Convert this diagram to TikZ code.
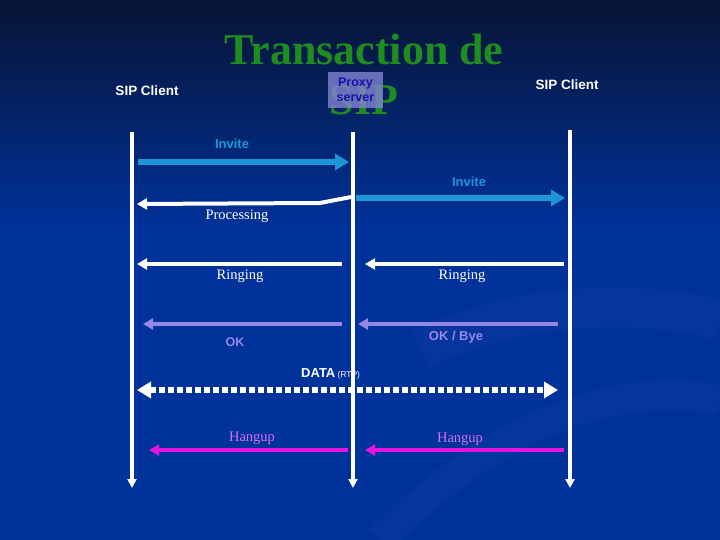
\documentclass[tikz,border=0pt]{standalone}
\usepackage{fontspec}
\setmainfont{Liberation Serif}
\newfontfamily\arialf{Liberation Sans}
\usetikzlibrary{arrows.meta}
\definecolor{bgtop}{RGB}{8,20,52}
\definecolor{bgbot}{RGB}{0,50,155}
\definecolor{invblue}{RGB}{28,150,215}
\definecolor{lav}{RGB}{150,135,230}
\definecolor{mag}{RGB}{230,20,225}
\definecolor{hangtxt}{RGB}{215,110,235}
\definecolor{titlegreen}{RGB}{30,140,30}
\definecolor{proxyfill}{RGB}{130,130,210}
\definecolor{proxytxt}{RGB}{20,20,170}
\tikzset{
  lifeline/.style={white, line width=4pt, -{Triangle[length=9pt,width=9pt]}},
  invitemsg/.style={invblue, line width=6pt, -{Triangle[length=14pt,width=16pt]}},
  whitemsg/.style={white, line width=4pt, -{Triangle[length=10pt,width=11pt]}},
  okmsg/.style={lav, line width=4pt, -{Triangle[length=10pt,width=11pt]}},
  hangmsg/.style={mag, line width=4pt, -{Triangle[length=10pt,width=11pt]}},
  datamsg/.style={white, line width=6pt, dash pattern=on 6pt off 3pt, {Triangle[length=14pt,width=16pt]}-{Triangle[length=14pt,width=16pt]}},
  sanslbl/.style={font=\arialf\bfseries\fontsize{13}{15}\selectfont, inner sep=0pt},
  seriflbl/.style={font=\fontsize{14.5}{16}\selectfont, inner sep=0pt},
}
\begin{document}
\begin{tikzpicture}[x=1pt,y=-1pt]
\fill[bgbot] (0,0) rectangle (720,540);
\shade[top color=bgtop, bottom color=bgbot] (0,0) rectangle (720,230);
\useasboundingbox (0,0) rectangle (720,540);
% faint swirl
\draw[white, opacity=0.025, line width=40pt] (420,350) .. controls (520,300) and (640,300) .. (720,320);
\draw[white, opacity=0.02, line width=30pt] (380,540) .. controls (500,420) and (620,380) .. (720,400);

% title
\node[titlegreen, font=\bfseries\fontsize{44}{50}\selectfont, align=center, inner sep=0pt] (title) at (364,74) {Transaction de\\SIP};
\node[fill=proxyfill, fill opacity=0.8, text opacity=1, text=proxytxt, minimum width=55pt, minimum height=36pt, inner sep=0pt, align=center, font=\arialf\bfseries\fontsize{12.5}{15.5}\selectfont] (proxy) at (355.5,90) {Proxy\\server};

\node[white, sanslbl, font=\arialf\bfseries\fontsize{13.5}{15}\selectfont] (clientL) at (147,91) {SIP Client};
\node[white, sanslbl, font=\arialf\bfseries\fontsize{13.5}{15}\selectfont] (clientR) at (567,85) {SIP Client};

% lifelines
\coordinate (Ltop) at (132,132); \coordinate (Lbot) at (132,488);
\coordinate (Mtop) at (353,132); \coordinate (Mbot) at (353,488);
\coordinate (Rtop) at (570,130); \coordinate (Rbot) at (570,488);
\draw[lifeline] (Ltop) -- (Lbot);
\draw[lifeline] (Mtop) -- (Mbot);
\draw[lifeline] (Rtop) -- (Rbot);

% Invite 1
\coordinate (i1s) at (138,162); \coordinate (i1e) at (349,162);
\draw[invitemsg] (i1s) -- (i1e);
\node[invblue, sanslbl] (inv1) at (232,144) {Invite};
% Invite 2
\coordinate (i2s) at (356,198); \coordinate (i2e) at (565,198);
\draw[invitemsg] (i2s) -- (i2e);
\node[invblue, sanslbl] (inv2) at (469,182) {Invite};

% Processing
\coordinate (ps) at (351,197); \coordinate (pk) at (320,203); \coordinate (pe) at (137,204);
\draw[whitemsg] (ps) -- (pk) -- (pe);
\node[white, seriflbl] (proc) at (237,216) {Processing};

% Ringing
\coordinate (r1s) at (342,264); \coordinate (r1e) at (137,264);
\draw[whitemsg] (r1s) -- (r1e);
\node[white, seriflbl] (ring1) at (240,276) {Ringing};
\coordinate (r2s) at (564,264); \coordinate (r2e) at (365,264);
\draw[whitemsg] (r2s) -- (r2e);
\node[white, seriflbl] (ring2) at (462,276) {Ringing};

% OK
\coordinate (o1s) at (342,324); \coordinate (o1e) at (143,324);
\draw[okmsg] (o1s) -- (o1e);
\node[lav, sanslbl, font=\arialf\bfseries\fontsize{12.5}{15}\selectfont] (ok1) at (235,342) {OK};
\coordinate (o2s) at (558,324); \coordinate (o2e) at (358,324);
\draw[okmsg] (o2s) -- (o2e);
\node[lav, sanslbl] (ok2) at (456,337) {OK / Bye};

% DATA
\coordinate (ds) at (137,390); \coordinate (de) at (558,390);
\draw[datamsg] (ds) -- (de);
\node[white, sanslbl, anchor=base west] (data) at (301,377) {DATA\,{\mdseries\fontsize{8.5}{10}\selectfont (RTP)}};

% Hangup
\coordinate (h1s) at (348,450); \coordinate (h1e) at (149,450);
\draw[hangmsg] (h1s) -- (h1e);
\node[hangtxt, seriflbl] (hang1) at (252,438) {Hangup};
\coordinate (h2s) at (564,450); \coordinate (h2e) at (365,450);
\draw[hangmsg] (h2s) -- (h2e);
\node[hangtxt, seriflbl] (hang2) at (460,439) {Hangup};
\end{tikzpicture}
\end{document}
